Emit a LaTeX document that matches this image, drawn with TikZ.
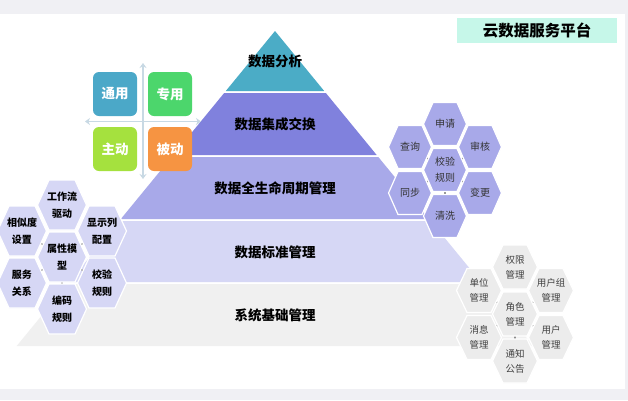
\documentclass[tikz,border=0pt]{standalone}
\usepackage{fontspec}
\setmainfont{Noto Sans CJK SC}
\usepackage{tikz}
\usetikzlibrary{arrows.meta}

\definecolor{pyrteal}{RGB}{75,172,198}
\definecolor{pyrdeep}{RGB}{128,129,221}
\definecolor{pyrmid}{RGB}{168,169,233}
\definecolor{pyrpale}{RGB}{214,215,245}
\definecolor{pyrgray}{RGB}{240,240,240}
\definecolor{hexgray}{RGB}{236,236,236}
\definecolor{quadblue}{RGB}{75,168,200}
\definecolor{quadgreen}{RGB}{76,214,108}
\definecolor{quadlime}{RGB}{165,225,62}
\definecolor{quadorange}{RGB}{246,148,66}
\definecolor{axisgray}{RGB}{200,217,228}
\definecolor{titlemint}{RGB}{198,247,233}
\definecolor{framegray}{RGB}{240,240,244}

\pgfdeclarelayer{back}
\pgfdeclarelayer{links}
\pgfsetlayers{back,links,main}

% one band of the pyramid, from y=#2 down to y=#3
\newcommand{\band}[3]{%
  \fill[#1] ({275-0.82*(#2-31)},#2) -- ({275+0.82*(#2-31)},#2)
    -- ({275+0.82*(#3-31)},#3) -- ({275-0.82*(#3-31)},#3) -- cycle;}

% hexagon cell: name, centre, fill style, text style, text
\newcommand{\hexcell}[5]{%
  \begin{scope}[shift={#2}]
    \filldraw[#3] (-\hexw,0) -- (-\hexs,-\hexh) -- (\hexs,-\hexh) -- (\hexw,0)
      -- (\hexs,\hexh) -- (-\hexs,\hexh) -- cycle;
  \end{scope}
  \node[#4] (#1) at #2 {#5};}

\begin{document}
\begin{tikzpicture}[x=1pt, y=-1pt,
    layer/.style={font=\fontsize{13.5}{16}\selectfont\bfseries, text=black},
    quad/.style={rectangle, rounded corners=6pt, minimum width=44pt, minimum height=44pt, text=white, font=\fontsize{13.5}{16}\selectfont\bfseries},
    axis/.style={draw=axisgray, line width=1.8pt, arrows={Stealth[length=5pt,width=7pt]-Stealth[length=5pt,width=7pt]}},
    hexright/.style={fill=pyrmid, draw=white, line width=1.2pt},
    hexleft/.style={fill=pyrpale, draw=white, line width=1.2pt},
    hexbase/.style={fill=hexgray, draw=white, line width=1.2pt},
    hextext/.style={align=center, text=black!80, font=\fontsize{10}{16}\selectfont},
    hexbold/.style={align=center, text=black, font=\fontsize{10}{17}\selectfont\bfseries},
    hexsmall/.style={align=center, text=black!75, font=\fontsize{9.5}{15}\selectfont},
    link/.style={draw=black!45, line width=1.2pt}
]
    \useasboundingbox (0,0) rectangle (628,400);

    % frame and pyramid
    \begin{pgfonlayer}{back}
    \fill[framegray] (0,0) rectangle (628,400);
    \fill[white] (0,14) rectangle (625,389);
    \band{pyrteal}{31}{91}
    \band{pyrdeep}{93}{155}
    \band{pyrmid}{157}{219}
    \band{pyrpale}{221}{282}
    \band{pyrgray}{284}{346}
    \end{pgfonlayer}

    \node[layer] (analyse) at (275,61) {数据分析};
    \node[layer] (exchange) at (275,124) {数据集成交换};
    \node[layer] (lifecycle) at (275,188) {数据全生命周期管理};
    \node[layer] (standard) at (275,252) {数据标准管理};
    \node[layer] (basic) at (275,315) {系统基础管理};

    % title
    \node[fill=titlemint, minimum width=160pt, minimum height=25pt, font=\fontsize{15.5}{18}\selectfont\bfseries] (title) at (537,30.5) {云数据服务平台};

    % quadrant
    \coordinate (vtop) at (143,63);
    \coordinate (vbot) at (143,179);
    \coordinate (hleft) at (85,121.5);
    \coordinate (hright) at (201,121.5);
    \draw[axis] (vtop) -- (vbot);
    \draw[axis] (hleft) -- (hright);
    \node[quad, fill=quadblue] (general) at (115,94) {通用};
    \node[quad, fill=quadgreen] (special) at (170,94) {专用};
    \node[quad, fill=quadlime] (active) at (115,149) {主动};
    \node[quad, fill=quadorange] (passive) at (170,149) {被动};

    % right cluster
    \def\hexw{21.5}\def\hexs{12}\def\hexh{21.5}
    \hexcell{rcheck}{(445,170)}{hexright}{hextext}{校验\\规则}
    \hexcell{rapply}{(445,124)}{hexright}{hextext}{申请}
    \hexcell{rquery}{(410,147)}{hexright}{hextext}{查询}
    \hexcell{raudit}{(480,147)}{hexright}{hextext}{审核}
    \hexcell{rsync}{(410,193)}{hexright}{hextext}{同步}
    \hexcell{rchange}{(480,193)}{hexright}{hextext}{变更}
    \hexcell{rclean}{(445,216)}{hexright}{hextext}{清洗}

    % left cluster
    \def\hexw{24.5}\def\hexs{13}\def\hexh{25}
    \hexcell{lmodel}{(62,257)}{hexleft}{hexbold}{属性模\\型}
    \hexcell{lflow}{(62,205)}{hexleft}{hexbold}{工作流\\驱动}
    \hexcell{lsimilar}{(22,231)}{hexleft}{hexbold}{相似度\\设置}
    \hexcell{lcolumn}{(102,231)}{hexleft}{hexbold}{显示列\\配置}
    \hexcell{lservice}{(22,283)}{hexleft}{hexbold}{服务\\关系}
    \hexcell{lcheck}{(102,283)}{hexleft}{hexbold}{校验\\规则}
    \hexcell{lcode}{(62,309)}{hexleft}{hexbold}{编码\\规则}

    % bottom right cluster
    \def\hexw{22.5}\def\hexs{12}\def\hexh{22}
    \hexcell{brole}{(515,314)}{hexbase}{hexsmall}{角色\\管理}
    \hexcell{bright}{(515,267)}{hexbase}{hexsmall}{权限\\管理}
    \hexcell{bunit}{(479,290.5)}{hexbase}{hexsmall}{单位\\管理}
    \hexcell{bgroup}{(551,290.5)}{hexbase}{hexsmall}{用户组\\管理}
    \hexcell{bmsg}{(479,337.5)}{hexbase}{hexsmall}{消息\\管理}
    \hexcell{buser}{(551,337.5)}{hexbase}{hexsmall}{用户\\管理}
    \hexcell{bnotice}{(515,361)}{hexbase}{hexsmall}{通知\\公告}

    % links behind the cells
    \begin{pgfonlayer}{links}
    \foreach \n in {rquery,raudit,rsync,rchange,rclean}
        \draw[link] (rcheck.center) -- (\n.center);
    \foreach \n in {lsimilar,lcolumn,lservice,lcheck,lcode}
        \draw[link] (lmodel.center) -- (\n.center);
    \foreach \n in {bunit,bgroup,bmsg,buser,bnotice}
        \draw[link] (brole.center) -- (\n.center);
    \end{pgfonlayer}
\end{tikzpicture}
\end{document}
